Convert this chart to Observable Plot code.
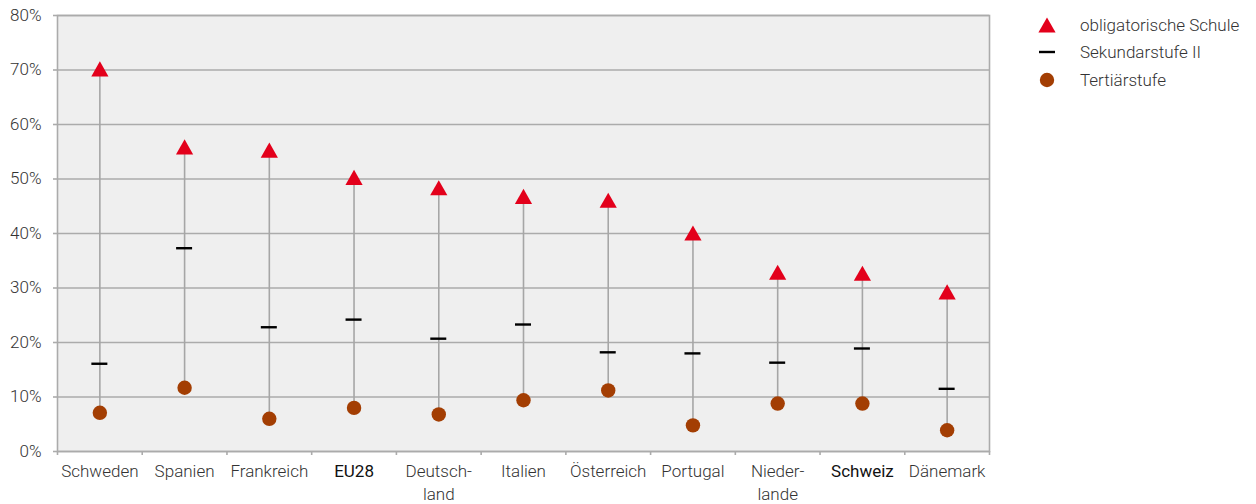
<!DOCTYPE html>
<html>
<head>
<meta charset="utf-8">
<script src="https://cdn.jsdelivr.net/npm/d3@7"></script>
<script src="https://cdn.jsdelivr.net/npm/@observablehq/plot@0.6"></script>
<style>
  html, body { margin: 0; padding: 0; background: #fff; }
  #wrap { position: relative; width: 1256px; height: 504px; font-family: Roboto, sans-serif; }
  #legend { position: absolute; left: 1036px; top: 11px; font-size: 17px; font-weight: 300; color: #333; }
  #legend .row { display: flex; align-items: center; height: 27.5px; }
  #legend svg { width: 22px; height: 22px; margin-right: 22px; }
</style>
</head>
<body>
<div id="wrap">
  <div id="chart"></div>
  <div id="legend"></div>
</div>
<script>
const countries = ["Schweden", "Spanien", "Frankreich", "EU28", "Deutschland", "Italien", "Österreich", "Portugal", "Niederlande", "Schweiz", "Dänemark"];
const countryLabels = ["Schweden", "Spanien", "Frankreich", "EU28", "Deutsch-\nland", "Italien", "Österreich", "Portugal", "Nieder-\nlande", "Schweiz", "Dänemark"];
const highlighted = ["EU28", "Schweiz"];
const obligatorisch = [70.2, 55.9, 55.3, 50.3, 48.4, 46.8, 46.1, 40.1, 32.9, 32.7, 29.3];
const sekundar = [16.1, 37.3, 22.8, 24.2, 20.7, 23.3, 18.2, 18.0, 16.3, 18.9, 11.5];
const tertiaer = [7.1, 11.7, 6.0, 8.0, 6.8, 9.4, 11.2, 4.8, 8.8, 8.8, 3.9];
const seriesNames = ["obligatorische Schule", "Sekundarstufe II", "Tertiärstufe"];
const yTicks = [0, 10, 20, 30, 40, 50, 60, 70, 80];

const colRed = "#e3001b", colBrown = "#a33e03", colGrid = "#ababab", textCol = "#333";

const data = countries.map((c, i) => ({
  country: c, label: countryLabels[i],
  obl: obligatorisch[i], sek: sekundar[i], ter: tertiaer[i],
  hi: highlighted.includes(c)
}));

const W = 1256, H = 504, mL = 57, mR = 267, mT = 15, mB = 53;
const bw = (W - mL - mR) / countries.length;

// triangle symbol centred on its bounding box
const triangle = {
  draw(ctx, size) {
    const r = Math.sqrt(size / Math.PI);
    const h = r * 0.88;
    ctx.moveTo(0, -h);
    ctx.lineTo(r, h);
    ctx.lineTo(-r, h);
    ctx.closePath();
  }
};

const chart = Plot.plot({
  width: W, height: H,
  marginLeft: mL, marginRight: mR, marginTop: mT, marginBottom: mB,
  style: { fontFamily: "Roboto, sans-serif", fontSize: "17px", fontWeight: 300, color: textCol, background: "#fff" },
  x: { type: "band", domain: countries, padding: 0, round: false, axis: null },
  y: { domain: [0, 80], axis: null },
  marks: [
    Plot.frame({ fill: "#efefef", stroke: null }),
    Plot.gridY(yTicks, { stroke: colGrid, strokeOpacity: 1, strokeWidth: 1.4 }),
    Plot.frame({ stroke: colGrid, strokeWidth: 1.6 }),
    Plot.axisY({ ticks: yTicks, tickFormat: d => d + "%", tickSize: 4, tickPadding: 12, stroke: colGrid, strokeWidth: 1.6, fill: textCol, fontSize: 17, label: null }),
    Plot.axisX({ tickSize: 4, tickFormat: () => "", dx: -bw / 2, stroke: colGrid, strokeWidth: 1.6, label: null }),
    Plot.axisX([countries[countries.length - 1]], { tickSize: 4, tickFormat: () => "", dx: bw / 2, stroke: colGrid, strokeWidth: 1.6, label: null }),
    Plot.text(data.filter(d => !d.hi), { x: "country", text: "label", frameAnchor: "bottom", lineAnchor: "top", dy: 9, lineHeight: 1.35, fill: textCol, fontSize: 17, fontWeight: 300 }),
    Plot.text(data.filter(d => d.hi), { x: "country", text: "label", frameAnchor: "bottom", lineAnchor: "top", dy: 9, lineHeight: 1.35, fill: "#111", fontWeight: 400, fontSize: 17 }),
    Plot.ruleX(data, { x: "country", y1: "ter", y2: "obl", stroke: "#a6a6a6", strokeWidth: 1.6 }),
    Plot.tickY(data, { x: "country", y: "sek", stroke: "#000", strokeWidth: 2.4, inset: (bw - 16) / 2 }),
    Plot.dot(data, { x: "country", y: "ter", r: 7.2, fill: colBrown, stroke: null }),
    Plot.dot(data, { x: "country", y: "obl", r: 8.6, symbol: triangle, fill: colRed, stroke: null })
  ]
});
document.getElementById("chart").append(chart);

// legend
const legendSymbols = [
  `<svg viewBox="-11 -11 22 22"><path d="M0,-7.5L8.6,7.5L-8.6,7.5Z" fill="${colRed}"/></svg>`,
  `<svg viewBox="-11 -11 22 22"><line x1="-8" x2="8" y1="0" y2="0" stroke="#000" stroke-width="2.4"/></svg>`,
  `<svg viewBox="-11 -11 22 22"><circle r="7.2" fill="${colBrown}"/></svg>`
];
const legend = document.getElementById("legend");
seriesNames.forEach((name, i) => {
  const row = document.createElement("div");
  row.className = "row";
  row.innerHTML = legendSymbols[i] + `<span>${name}</span>`;
  legend.append(row);
});
</script>
</body>
</html>
